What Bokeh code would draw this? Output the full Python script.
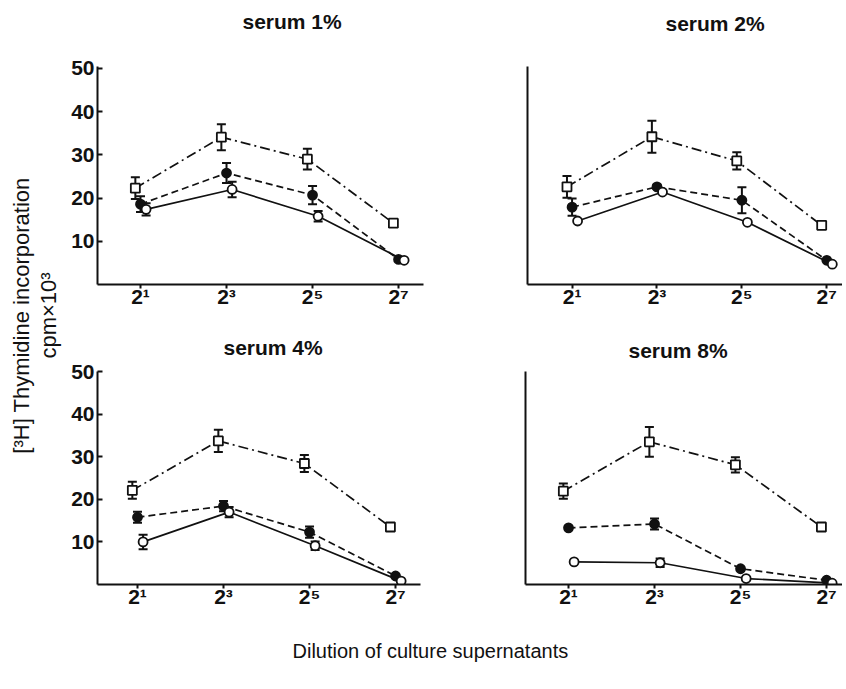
from bokeh.plotting import figure
from bokeh.models import ColumnDataSource, Whisker, TeeHead, Title, FixedTicker, Range1d
from bokeh.transform import dodge
from bokeh.layouts import row, column
from bokeh.embed import file_html
from bokeh.resources import INLINE

# ---------------- data ----------------
dilution_exp = [1, 3, 5, 7]
tick_labels = ["2¹", "2³", "2⁵", "2⁷"]
y_ticks = [10, 20, 30, 40, 50]
panel_titles = ["serum 1%", "serum 2%", "serum 4%", "serum 8%"]

# serum 1%
sq_1 = [22.3, 34.1, 29.0, 14.2]
sq_1_err = [2.5, 3.0, 2.4, 0]
fc_1 = [18.6, 25.8, 20.7, 5.8]
fc_1_err = [1.8, 2.3, 2.1, 0]
oc_1 = [17.4, 22.0, 15.8, 5.6]
oc_1_err = [1.4, 1.8, 1.2, 0]

# serum 2%
sq_2 = [22.6, 34.2, 28.6, 13.7]
sq_2_err = [2.5, 3.7, 2.0, 0]
fc_2 = [17.9, 22.6, 19.5, 5.6]
fc_2_err = [2.0, 0.5, 3.0, 0]
oc_2 = [14.7, 21.4, 14.4, 4.7]
oc_2_err = [0, 0, 0, 0]

# serum 4%
sq_4 = [22.1, 33.7, 28.4, 13.5]
sq_4_err = [2.0, 2.6, 2.0, 0]
fc_4 = [15.8, 18.4, 12.3, 2.0]
fc_4_err = [1.3, 1.2, 1.3, 0]
oc_4 = [10.0, 17.0, 9.1, 0.8]
oc_4_err = [1.7, 1.2, 1.0, 0]

# serum 8%
sq_8 = [21.9, 33.5, 28.1, 13.5]
sq_8_err = [1.8, 3.5, 1.8, 0]
fc_8 = [13.3, 14.2, 3.7, 1.0]
fc_8_err = [0, 1.3, 0, 0]
oc_8 = [5.3, 5.1, 1.4, 0.3]
oc_8_err = [0, 1.0, 0, 0]

panel_data = [
    (sq_1, sq_1_err, fc_1, fc_1_err, oc_1, oc_1_err),
    (sq_2, sq_2_err, fc_2, fc_2_err, oc_2, oc_2_err),
    (sq_4, sq_4_err, fc_4, fc_4_err, oc_4, oc_4_err),
    (sq_8, sq_8_err, fc_8, fc_8_err, oc_8, oc_8_err),
]

FONT = "Liberation Sans"
INK = "#111111"

# layout geometry per panel
geom = [
    dict(width=362, height=320, mbl=29, mbr=7, mbt=66, mbb=36, xr=(0.0, 7.58), yr=(0, 50.46),
         labels=True, toff=145, spacer=31, tst=0),
    dict(width=412, height=320, mbl=97, mbr=0, mbt=66, mbb=36, xr=(-0.05, 7.37), yr=(0, 50.46),
         labels=False, toff=138, spacer=29, tst=0),
    dict(width=362, height=295, mbl=29, mbr=10, mbt=49, mbb=31, xr=(0.07, 7.58), yr=(0, 50.0),
         labels=True, toff=126, spacer=0, tst=26),
    dict(width=412, height=295, mbl=95, mbr=0, mbt=49, mbb=31, xr=(0.0, 7.37), yr=(0, 50.0),
         labels=False, toff=103, spacer=0, tst=20),
]

series_style = [
    # marker, fill, dash, dodge
    ("square", "white", "10 4 2 4", -0.12),
    ("circle", INK, "7 4", 0.0),
    ("circle", "white", "solid", 0.13),
]


def make_panel(title, data, g):
    p = figure(width=g["width"], height=g["height"], toolbar_location=None, output_backend="svg",
               x_range=Range1d(*g["xr"]), y_range=Range1d(*g["yr"]),
               min_border_left=g["mbl"], min_border_right=g["mbr"],
               min_border_top=g["mbt"], min_border_bottom=g["mbb"],
               outline_line_color=None, background_fill_color="white", border_fill_color="white",
               title=None)
    if g["spacer"]:
        p.add_layout(Title(text=" ", text_font_size="1px", standoff=g["spacer"]), "above")
    p.add_layout(Title(text=title, align="left", offset=g["toff"], standoff=g["tst"],
                       text_font=FONT, text_font_size="21px", text_font_style="bold",
                       text_color=INK), "above")
    p.grid.visible = False

    for k, (marker, fill, dash, dx) in enumerate(series_style):
        vals = data[2 * k]
        errs = data[2 * k + 1]
        src = ColumnDataSource(dict(x=dilution_exp, y=vals))
        p.line(x=dodge("x", dx), y="y", source=src, line_color=INK, line_width=1.7, line_dash=dash)
        ex = [x for x, e in zip(dilution_exp, errs) if e > 0]
        ey = [v for v, e in zip(vals, errs) if e > 0]
        ee = [e for e in errs if e > 0]
        if ex:
            esrc = ColumnDataSource(dict(x=ex, lower=[v - e for v, e in zip(ey, ee)],
                                         upper=[v + e for v, e in zip(ey, ee)]))
            w = Whisker(base=dodge("x", dx), lower="lower", upper="upper", source=esrc,
                        line_color=INK, line_width=2,
                        upper_head=TeeHead(size=9, line_width=2, line_color=INK),
                        lower_head=TeeHead(size=9, line_width=2, line_color=INK),
                        level="underlay")
            p.add_layout(w)
        p.scatter(x=dodge("x", dx), y="y", source=src, marker=marker, size=9,
                  fill_color=fill, line_color=INK, line_width=1.8)

    # x axis
    xa = p.xaxis[0]
    xa.ticker = FixedTicker(ticks=dilution_exp)
    xa.major_label_overrides = dict(zip(dilution_exp, tick_labels))
    xa.major_tick_in = 0
    xa.major_tick_out = 4
    xa.minor_tick_line_color = None
    xa.axis_line_width = 2
    xa.major_tick_line_width = 2
    xa.axis_line_color = INK
    xa.major_tick_line_color = INK
    xa.major_label_text_font = FONT
    xa.major_label_text_font_size = "21px"
    xa.major_label_text_font_style = "bold"
    xa.major_label_text_color = INK
    xa.major_label_standoff = -4

    ya = p.yaxis[0]
    ya.ticker = FixedTicker(ticks=y_ticks if g["labels"] else [])
    ya.major_tick_in = 5
    ya.major_tick_out = 0
    ya.minor_tick_line_color = None
    ya.axis_line_width = 2
    ya.major_tick_line_width = 2
    ya.axis_line_color = INK
    ya.major_tick_line_color = INK
    ya.major_label_text_font = FONT
    ya.major_label_text_font_size = "21px"
    ya.major_label_text_font_style = "bold"
    ya.major_label_text_color = INK
    ya.major_label_standoff = 3
    return p


panels = [make_panel(t, d, g) for t, d, g in zip(panel_titles, panel_data, geom)]

# y-axis label column
ylab = figure(width=68, height=615, toolbar_location=None, output_backend="svg", title=None,
              min_border_left=60, min_border_right=0, min_border_top=65, min_border_bottom=50,
              x_axis_location=None, y_axis_location=None, outline_line_color=None)
ylab.grid.visible = False
ylab.add_layout(Title(text="cpm×10³", align="center", standoff=0, text_font=FONT,
                      text_font_size="22px", text_font_style="normal", text_color=INK), "left")
ylab.add_layout(Title(text="[³H] Thymidine incorporation", align="center", standoff=0, text_font=FONT,
                      text_font_size="22px", text_font_style="normal", text_color=INK), "left")

# x-axis label row
xlab = figure(width=842, height=60, toolbar_location=None, output_backend="svg", title=None,
              min_border_left=0, min_border_right=0, min_border_top=47, min_border_bottom=0,
              x_axis_location=None, y_axis_location=None, outline_line_color=None)
xlab.grid.visible = False
xlab.add_layout(Title(text="Dilution of culture supernatants", align="left", offset=292, standoff=1,
                      text_font=FONT, text_font_size="20px", text_font_style="normal",
                      text_color=INK), "above")

layout = column(
    row(ylab, column(row(panels[0], panels[1]), row(panels[2], panels[3]))),
    xlab,
)

open("out.html", "w").write(file_html(layout, INLINE))
